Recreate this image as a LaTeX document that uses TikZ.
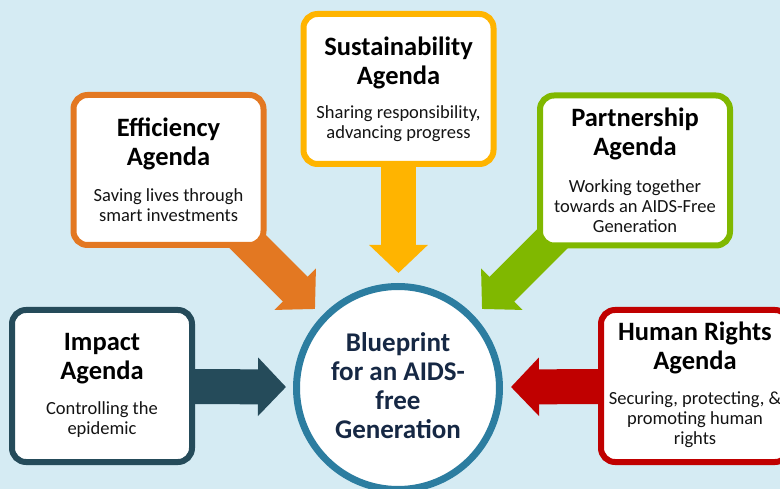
\documentclass[tikz,border=0pt]{standalone}
\usepackage{fontspec}
\setmainfont{Carlito}
\usetikzlibrary{arrows.meta,backgrounds}
\definecolor{bgc}{RGB}{213,235,243}
\definecolor{impc}{RGB}{37,75,90}
\definecolor{effc}{RGB}{227,120,34}
\definecolor{susc}{RGB}{255,180,0}
\definecolor{parc}{RGB}{128,184,0}
\definecolor{hrc}{RGB}{192,0,0}
\definecolor{circc}{RGB}{44,125,160}
\definecolor{navyc}{RGB}{22,40,68}
\tikzset{
  agbox/.style={draw=#1, line width=6pt, fill=white, rounded corners=14pt, minimum height=150pt, minimum width=190pt, inner sep=0pt},
  ttl/.style={font=\fontsize{26.5}{29}\selectfont\bfseries, align=center, text=black, inner sep=0pt},
  subt/.style={font=\fontsize{18.5}{20}\selectfont, align=center, text=black!92, inner sep=0pt},
  barrow/.style={draw=#1, line width=35pt, -{Triangle[width=57pt,length=28pt]}}
}
\begin{document}
\begin{tikzpicture}[x=1pt,y=-1pt]
\useasboundingbox (0,0) rectangle (780,489);
\clip (0,0) rectangle (780,489);
% boxes
\node[agbox=impc, minimum width=180pt, minimum height=152pt] (imp) at (102,386) {};
\node[ttl] (impt) at (102,359) {Impact\\Agenda};
\node[subt] (imps) at (102,420) {Controlling the\\epidemic};

\node[agbox=effc] (eff) at (168.5,170) {};
\node[ttl] (efft) at (168.5,144) {Efficiency\\Agenda};
\node[subt] (effs) at (168.5,205) {Saving lives through\\smart investments};

\node[agbox=susc] (sus) at (398.5,89) {};
\node[ttl] (sust) at (398.5,62.5) {Sustainability\\Agenda};
\node[subt] (suss) at (398.5,124) {Sharing responsibility,\\advancing progress};

\node[agbox=parc] (par) at (635,170.5) {};
\node[ttl] (part) at (635,133.5) {Partnership\\Agenda};
\node[subt] (pars) at (635,206) {Working together\\towards an AIDS-Free\\Generation};

\node[agbox=hrc, minimum width=188pt, minimum height=152pt] (hr) at (695,386) {};
\node[ttl] (hrt) at (695,348) {Human Rights\\Agenda};
\node[subt] (hrs) at (695,420) {Securing, protecting, \&\\promoting human\\rights};

% centre
\node[circle, draw=circc, line width=7pt, fill=white, minimum size=203pt, inner sep=0pt] (bp) at (398,388) {};
\node[font=\fontsize{27}{29}\selectfont\bfseries, text=navyc, align=center, inner sep=0pt] (bpt) at (398,386) {Blueprint\\for an AIDS-\\free\\Generation};

\begin{pgfonlayer}{background}
\fill[bgc] (0,0) rectangle (780,489);
\coordinate (impTip) at (286,387);
\coordinate (hrTip) at (511,387);
\coordinate (susTip) at (398.5,273);
\coordinate (effStart) at (235,229);
\coordinate (effTip) at (315,309);
\coordinate (parStart) at (562,229);
\coordinate (parTip) at (482,309);
\draw[barrow=impc] (imp.center) -- (impTip);
\draw[barrow=hrc] (hr.center) -- (hrTip);
\draw[barrow=susc] (sus.center) -- (susTip);
\draw[barrow=effc] (effStart) -- (effTip);
\draw[barrow=parc] (parStart) -- (parTip);
\end{pgfonlayer}
\end{tikzpicture}
\end{document}
